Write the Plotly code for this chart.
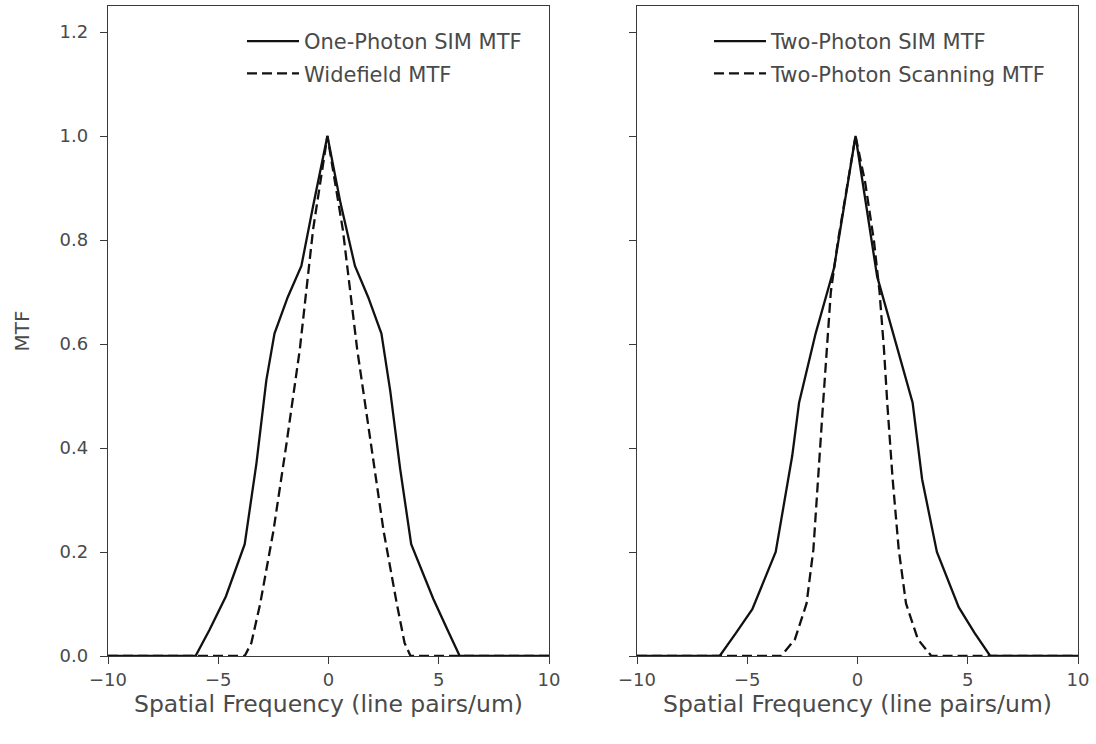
import plotly.graph_objects as go

# ---------------- data ----------------
one_photon_sim_x = [-10, -6.03, -5.4, -4.65, -3.8, -3.27, -2.82, -2.45, -1.85, -1.23, -0.7, -0.05,
                    0.55, 1.2, 1.8, 2.4, 2.8, 3.25, 3.75, 4.75, 5.4, 5.95, 10]
one_photon_sim_y = [0, 0, 0.05, 0.115, 0.215, 0.37, 0.53, 0.62, 0.69, 0.75, 0.865, 1.0,
                    0.87, 0.75, 0.69, 0.62, 0.51, 0.36, 0.215, 0.11, 0.05, 0, 0]

widefield_x = [-10, -3.8, -3.5, -3.1, -2.5, -1.9, -1.3, -0.7, -0.05,
               0.65, 1.3, 1.92, 2.5, 3.1, 3.45, 3.72, 10]
widefield_y = [0, 0, 0.025, 0.10, 0.24, 0.41, 0.59, 0.82, 1.0,
               0.82, 0.59, 0.41, 0.24, 0.10, 0.025, 0, 0]

two_photon_sim_x = [-10, -6.25, -5.5, -4.77, -3.71, -3.3, -2.96, -2.65, -1.9, -1.07, -0.09,
                    0.89, 1.7, 2.5, 2.93, 3.6, 4.59, 5.3, 6.02, 10]
two_photon_sim_y = [0, 0, 0.045, 0.09, 0.2, 0.3, 0.385, 0.487, 0.62, 0.745, 1.0,
                    0.73, 0.61, 0.487, 0.34, 0.2, 0.094, 0.045, 0, 0]

two_photon_scan_x = [-10, -3.46, -2.84, -2.31, -2.0, -1.77, -1.57, -1.39, -1.21, -0.89, -0.45, -0.09,
                     0.35, 0.75, 1.0, 1.2, 1.36, 1.59, 1.87, 2.2, 2.74, 3.35, 10]
two_photon_scan_y = [0, 0, 0.032, 0.101, 0.205, 0.342, 0.48, 0.59, 0.70, 0.797, 0.91, 1.0,
                     0.91, 0.797, 0.70, 0.59, 0.48, 0.342, 0.205, 0.101, 0.032, 0, 0]

x_ticks = [-10, -5, 0, 5, 10]
y_ticks = [0.0, 0.2, 0.4, 0.6, 0.8, 1.0, 1.2]

left_names = ["One-Photon SIM MTF", "Widefield MTF"]
right_names = ["Two-Photon SIM MTF", "Two-Photon Scanning MTF"]

# ---------------- styling ----------------
FONT = "DejaVu Sans"
TXT = "#4a4a4a"
AX = "#3a3a3a"
LINE = "#111111"
DASH = "10px,5px"
LW = 2.3

fig = go.Figure()

fig.add_trace(go.Scatter(x=one_photon_sim_x, y=one_photon_sim_y, mode="lines",
                         line=dict(color=LINE, width=LW), name=left_names[0],
                         xaxis="x", yaxis="y", legend="legend", legendgroup="a"))
fig.add_trace(go.Scatter(x=widefield_x, y=widefield_y, mode="lines",
                         line=dict(color=LINE, width=LW, dash=DASH), name=left_names[1],
                         xaxis="x", yaxis="y", legend="legend", legendgroup="b"))
fig.add_trace(go.Scatter(x=two_photon_sim_x, y=two_photon_sim_y, mode="lines",
                         line=dict(color=LINE, width=LW), name=right_names[0],
                         xaxis="x2", yaxis="y2", legend="legend2", legendgroup="c"))
fig.add_trace(go.Scatter(x=two_photon_scan_x, y=two_photon_scan_y, mode="lines",
                         line=dict(color=LINE, width=LW, dash=DASH), name=right_names[1],
                         xaxis="x2", yaxis="y2", legend="legend2", legendgroup="d"))

W, H = 1096, 744
ml, mr, mt, mb = 108, 18, 6, 88
pw = W - ml - mr
ph = H - mt - mb
d1 = (549 - ml) / pw
d2 = (637 - ml) / pw

axis_common = dict(showline=True, mirror=True, linecolor=AX, linewidth=1.3,
                   ticks="outside", ticklen=7, tickwidth=1.3, tickcolor=AX,
                   showgrid=False, zeroline=False,
                   tickfont=dict(family=FONT, size=18, color=TXT))

xtitle = dict(text="Spatial Frequency (line pairs/um)",
              font=dict(family=FONT, size=23.5, color=TXT), standoff=6)

legend_common = dict(xanchor="left", yanchor="top", bgcolor="rgba(0,0,0,0)",
                     traceorder="grouped", tracegroupgap=2, itemwidth=52,
                     font=dict(family=FONT, size=21, color=TXT))

fig.update_layout(
    width=W, height=H,
    margin=dict(l=ml, r=mr, t=mt, b=mb),
    paper_bgcolor="white", plot_bgcolor="white",
    xaxis=dict(domain=[0, d1], range=[-10, 10], tickvals=x_ticks, anchor="y",
               title=xtitle, **axis_common),
    xaxis2=dict(domain=[d2, 1], range=[-10, 10], tickvals=x_ticks, anchor="y2",
                title=xtitle, **axis_common),
    yaxis=dict(range=[0, 1.25], tickvals=y_ticks, tickformat=".1f", anchor="x",
               ticklabelstandoff=8,
               title=dict(text="MTF", font=dict(family=FONT, size=20, color=TXT), standoff=24),
               **axis_common),
    yaxis2=dict(range=[0, 1.25], tickvals=y_ticks, showticklabels=False, anchor="x2",
                matches="y", **axis_common),
    legend=dict(x=(242 - ml) / pw, y=1 - (21 - mt) / ph, **legend_common),
    legend2=dict(x=(709 - ml) / pw, y=1 - (21 - mt) / ph, **legend_common),
    showlegend=True,
)

fig.write_html("out.html", config={"displayModeBar": False},
               post_script="document.body.style.margin='0';")
